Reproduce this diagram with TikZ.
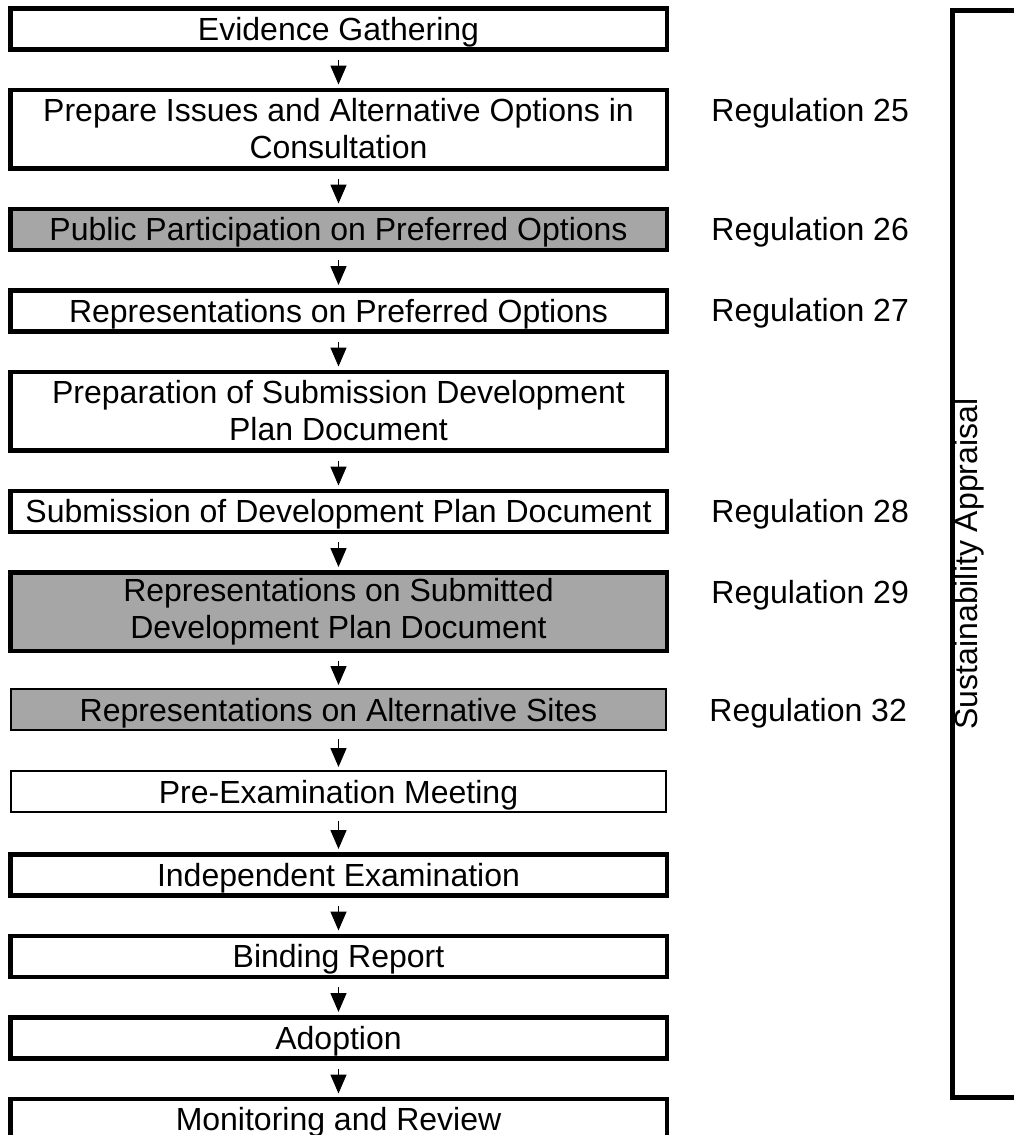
\documentclass[tikz,border=0pt]{standalone}
\usepackage{fontspec}
\setmainfont{Liberation Sans}
\usetikzlibrary{positioning}
\usetikzlibrary{arrows.meta}
\definecolor{boxgray}{HTML}{A6A6A6}
\newcommand{\flowfont}{\fontsize{16}{18.5}\selectfont}

\begin{document}
\begin{tikzpicture}[x=0.5pt,y=-0.5pt,node distance=18pt,
  box/.style={draw, line width=2.25pt, minimum width=328.25pt, minimum height=20.5pt,
    inner ysep=1pt, align=center, font=\flowfont, text height=15pt, text depth=3.5pt},
  twoline/.style={minimum height=39.25pt, text height=, text depth=},
  shaded/.style={fill=boxgray},
  lightbox/.style={line width=1pt, minimum width=327.5pt},
  reg/.style={inner sep=0pt, font=\flowfont, text height=15pt, text depth=3.5pt}]
  \useasboundingbox (0,0) rectangle (1013,1135);

  \node[box] (evid) at (338.5,28.75) {Evidence Gathering};
  \node[box, twoline, below=of evid] (issues) {Prepare Issues and Alternative Options in\\Consultation};
  \node[box, shaded, below=of issues] (ppart) {Public Participation on Preferred Options};
  \node[box, below=of ppart] (reppref) {Representations on Preferred Options};
  \node[box, twoline, below=of reppref] (prepsub) {Preparation of Submission Development\\Plan Document};
  \node[box, below=of prepsub] (submit) {Submission of Development Plan Document};
  \node[box, twoline, shaded, below=of submit] (repsub) {Representations on Submitted\\Development Plan Document};
  \node[box, lightbox, shaded, below=17.5pt of repsub] (repalt) {Representations on Alternative Sites};
  \node[box, lightbox, below=19.5pt of repalt] (preexam) {Pre-Examination Meeting};
  \node[box, below=19.5pt of preexam] (indexam) {Independent Examination};
  \node[box, below=of indexam] (binding) {Binding Report};
  \node[box, below=of binding] (adopt) {Adoption};
  \node[box, below=of adopt] (monitor) {Monitoring and Review};

  % regulations
  \node[reg, right=21pt of issues.north east, yshift=-11pt] (r25) {Regulation 25};
  \node[reg, right=21pt of ppart.north east, yshift=-11pt] (r26) {Regulation 26};
  \node[reg, right=21pt of reppref.north east, yshift=-11pt] (r27) {Regulation 27};
  \node[reg, right=21pt of submit.north east, yshift=-11pt] (r28) {Regulation 28};
  \node[reg, right=21pt of repsub.north east, yshift=-11pt] (r29) {Regulation 29};
  \node[reg, right=21pt of repalt.north east, yshift=-11pt] (r32) {Regulation 32};

  \path[-{Triangle[length=9.5pt,width=8pt]}, line width=0.75pt, shorten <=4pt, shorten >=1.5pt]
    (evid) edge (issues)
    (issues) edge (ppart)
    (ppart) edge (reppref)
    (reppref) edge (prepsub)
    (prepsub) edge (submit)
    (submit) edge (repsub)
    (repsub) edge (repalt)
    (repalt) edge (preexam)
    (preexam) edge (indexam)
    (indexam) edge (binding)
    (binding) edge (adopt)
    (adopt) edge (monitor);

  % appraisal bracket
  \draw[line width=2.5pt] (1030,10) -| (952.5,1097.5) -- (1030,1097.5);
  \node[rotate=90, font=\flowfont] (sa) at (969,564) {Sustainability Appraisal};
\end{tikzpicture}
\end{document}
